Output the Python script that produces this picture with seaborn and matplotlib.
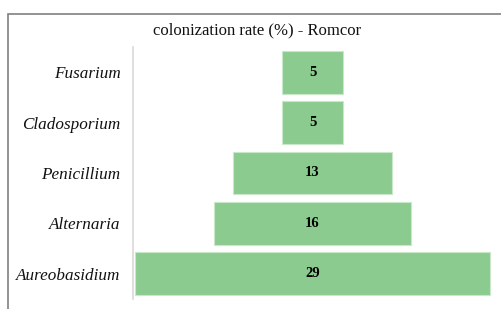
import matplotlib
matplotlib.use("Agg")
import matplotlib.pyplot as plt
import seaborn as sns
import pandas as pd
from matplotlib.patches import Rectangle

categories = ["Fusarium", "Cladosporium", "Penicillium", "Alternaria", "Aureobasidium"]
values = [5, 5, 13, 16, 29]
title = "colonization rate (%) - Romcor"

df = pd.DataFrame({"genus": categories, "rate": values})

sns.set_theme(style="white")
plt.rcParams["font.family"] = ["Liberation Serif", "DejaVu Serif"]

fig = plt.figure(figsize=(5.01, 3.09), dpi=100)
W, H = 501, 309
ax = fig.add_axes([133 / W, (H - 299) / H, (492 - 133) / W, (299 - 47) / H])

sns.barplot(data=df, x="rate", y="genus", orient="h", color="#8bcb8f",
            width=0.85, ax=ax, edgecolor="#c8e8c9", linewidth=0.8, saturation=1)

vmax = max(values)
center = vmax / 2
for p, v in zip(ax.patches, values):
    w = p.get_width()
    p.set_x(center - w / 2)
    ax.text(center, p.get_y() + p.get_height() / 2, f"{v}", ha="center", va="center",
            fontsize=10.5, fontweight="bold", color="black")

ax.set_xlim(-0.15, vmax + 0.15)
ax.set_xlabel("")
ax.set_ylabel("")
ax.set_xticks([])
for s in ["top", "right", "bottom"]:
    ax.spines[s].set_visible(False)
ax.spines["left"].set_color("#d9d9d9")
ax.spines["left"].set_linewidth(1.2)
ax.tick_params(axis="y", length=0, pad=9)
for lbl in ax.get_yticklabels():
    lbl.set_fontstyle("italic")
    lbl.set_fontsize(12.3)
    lbl.set_color("#111111")

fig.text(257 / W, (H - 30) / H, title, ha="center", va="center", fontsize=12, color="#111111")

fig.patches.append(Rectangle((8 / W, -0.1), 1.2, (H - 14) / H + 0.1, transform=fig.transFigure,
                             fill=False, edgecolor="#808080", linewidth=1.2, figure=fig))

fig.savefig("out.png", dpi=100)
